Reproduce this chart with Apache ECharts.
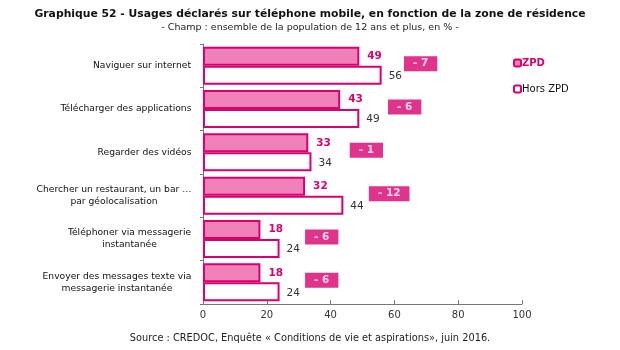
<!DOCTYPE html>
<html>
<head>
    <meta charset="UTF-8">
    <title>Graphique 52</title>
    <script src="https://cdn.jsdelivr.net/npm/echarts@6/dist/echarts.min.js"></script>
    <style>
        html, body { margin: 0; padding: 0; background: #fff; }
        #chart { width: 620px; height: 350px; }
    </style>
</head>
<body>
    <div id="chart"></div>
    <script>
        // Données
        const categories = [
            'Naviguer sur internet',
            'Télécharger des applications',
            'Regarder des vidéos',
            'Chercher un restaurant, un bar …\npar géolocalisation',
            'Téléphoner via messagerie\ninstantanée',
            'Envoyer des messages texte via\nmessagerie instantanée'
        ];
        const zpd = [49, 43, 33, 32, 18, 18];
        const horsZpd = [56, 49, 34, 44, 24, 24];
        const ecarts = ['- 7', '- 6', '- 1', '- 12', '- 6', '- 6'];
        // position (en %) du début de chaque encadré d'écart
        const ecartX = [63, 58, 46, 52, 32, 32];
        const xTicks = [0, 20, 40, 60, 80, 100];

        const magenta = '#d7006f';
        const rose = '#ef80b8';
        const font = 'DejaVu Sans';
        const labelSize = 9.2;

        const chart = echarts.init(document.getElementById('chart'));

        // libellés multi-lignes : lignes centrées entre elles, bloc aligné à droite
        const ctx = document.createElement('canvas').getContext('2d');
        ctx.font = labelSize + 'px "' + font + '"';
        const rich = {};
        categories.forEach((c, i) => {
            const w = Math.max(...c.split('\n').map(l => ctx.measureText(l).width));
            rich['c' + i] = { width: Math.ceil(w) + 1, align: 'center', fontSize: labelSize, lineHeight: 12, color: '#111' };
        });

        const ecartData = ecartX.map((x, i) => ({
            value: [x, i],
            label: { formatter: ecarts[i] }
        }));

        chart.setOption({
            animation: false,
            textStyle: { fontFamily: font },
            title: {
                text: 'Graphique 52 - Usages déclarés sur téléphone mobile, en fonction de la zone de résidence',
                subtext: '- Champ : ensemble de la population de 12 ans et plus, en % -',
                left: 'center',
                top: 4,
                itemGap: 3,
                textStyle: { fontSize: 10.8, fontWeight: 'bold', color: '#111', fontFamily: font },
                subtextStyle: { fontSize: 9.5, color: '#222', fontFamily: font }
            },
            legend: {
                orient: 'vertical',
                left: 508,
                top: 53,
                itemGap: 16,
                itemWidth: 7,
                itemHeight: 7,
                data: [
                    { name: 'ZPD', textStyle: { color: magenta, fontWeight: 'bold' } },
                    { name: 'Hors ZPD', textStyle: { color: '#111' } }
                ],
                textStyle: { fontSize: 10, fontFamily: font, padding: [0, 0, 0, -4] }
            },
            grid: { left: 203, right: 98, top: 44, bottom: 46 },
            xAxis: {
                type: 'value',
                min: 0,
                max: 100,
                interval: 20,
                axisLine: { show: true, lineStyle: { color: '#777' } },
                axisTick: { show: true, inside: true, length: 4, lineStyle: { color: '#777' } },
                splitLine: { show: false },
                axisLabel: {
                    color: '#333', fontSize: 10, margin: 6,
                    formatter: v => xTicks.includes(v) ? String(v) : ''
                }
            },
            yAxis: {
                type: 'category',
                data: categories,
                inverse: true,
                axisLine: { show: true, lineStyle: { color: '#777' } },
                axisTick: { show: true, length: 3, lineStyle: { color: '#777' } },
                axisLabel: {
                    margin: 11,
                    align: 'right',
                    formatter: (v, i) => v.split('\n').map(l => '{c' + i + '|' + l + '}').join('\n'),
                    rich: rich
                }
            },
            series: [
                {
                    name: 'ZPD',
                    type: 'bar',
                    data: zpd,
                    barWidth: 19,
                    barGap: '0%',
                    itemStyle: { color: rose, borderColor: magenta, borderWidth: 2 },
                    label: {
                        show: true, position: 'right', distance: 8, offset: [0, 0],
                        color: magenta, fontWeight: 'bold', fontSize: 10.5
                    }
                },
                {
                    name: 'Hors ZPD',
                    type: 'bar',
                    data: horsZpd,
                    barWidth: 19,
                    itemStyle: { color: '#fff', borderColor: magenta, borderWidth: 2 },
                    label: {
                        show: true, position: 'right', distance: 7, offset: [0, 1],
                        color: '#333', fontSize: 10.5
                    }
                },
                {
                    name: 'Écart',
                    type: 'scatter',
                    data: ecartData,
                    symbolSize: 0,
                    silent: true,
                    label: {
                        show: true,
                        position: 'right',
                        distance: 0,
                        offset: [0, -2],
                        color: '#fff',
                        fontWeight: 'bold',
                        fontSize: 10.5,
                        backgroundColor: magenta,
                        padding: [2, 9, 2, 9]
                    }
                }
            ],
            graphic: [{
                type: 'text',
                left: 'center',
                top: 333,
                style: {
                    text: 'Source : CREDOC, Enquête « Conditions de vie et aspirations», juin 2016.',
                    fontSize: 9.8,
                    fontFamily: font,
                    fill: '#222'
                }
            }]
        });

        window.addEventListener('resize', () => chart.resize());
    </script>
</body>
</html>
